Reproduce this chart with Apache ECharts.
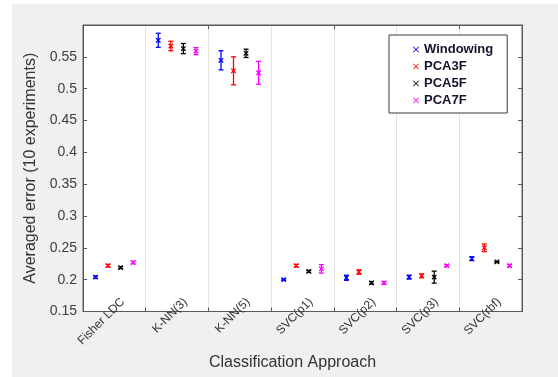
<!DOCTYPE html>
<html>
<head>
<meta charset="utf-8">
<script src="https://cdn.jsdelivr.net/npm/echarts@6/dist/echarts.min.js"></script>
<style>
  html, body { margin: 0; padding: 0; background: #ffffff; }
  #chart { width: 558px; height: 377px; }
</style>
</head>
<body>
<div id="chart"></div>
<script>
// ---- data ----
const categories = ['Fisher LDC', 'K-NN(3)', 'K-NN(5)', 'SVC(p1)', 'SVC(p2)', 'SVC(p3)', 'SVC(rbf)'];
const seriesNames = ['Windowing', 'PCA3F', 'PCA5F', 'PCA7F'];
const windowingMean = [0.204, 0.576, 0.5445, 0.200, 0.203, 0.204, 0.233];
const windowingErr  = [0.002, 0.011, 0.015, 0.001, 0.004, 0.003, 0.003];
const pca3Mean = [0.222, 0.567, 0.528, 0.222, 0.212, 0.206, 0.250];
const pca3Err  = [0.002, 0.0075, 0.022, 0.002, 0.0035, 0.003, 0.006];
const pca5Mean = [0.219, 0.563, 0.5555, 0.213, 0.195, 0.204, 0.228];
const pca5Err  = [0.0015, 0.008, 0.0065, 0.0015, 0.002, 0.0094, 0.001];
const pca7Mean = [0.227, 0.559, 0.525, 0.217, 0.195, 0.222, 0.222];
const pca7Err  = [0.002, 0.0055, 0.018, 0.0066, 0.002, 0.0015, 0.002];
const yTicks = [0.15, 0.2, 0.25, 0.3, 0.35, 0.4, 0.45, 0.5, 0.55];

const means = [windowingMean, pca3Mean, pca5Mean, pca7Mean];
const errs = [windowingErr, pca3Err, pca5Err, pca7Err];
const colors = ['#0000ff', '#ff0000', '#000000', '#ff00ff'];

const crossIcon = 'path://M0,1L1,0L5,4L9,0L10,1L6,5L10,9L9,10L5,6L1,10L0,9L4,5Z';

function makeRender(k) {
  return function (params, api) {
    const cat = api.value(0), v = api.value(1), e = api.value(2);
    const bw = api.size([1, 0])[0];
    const p = api.coord([cat, v]);
    const x = p[0] + (k - 1.5) * 0.2 * bw;
    const yc = p[1];
    const y1 = api.coord([cat, v + e])[1];
    const y2 = api.coord([cat, v - e])[1];
    const cw = 2.5, ms = 2.2;
    const st = { stroke: colors[k], lineWidth: 1.3, fill: null };
    const ln = (a, b, c, d) => ({ type: 'line', shape: { x1: a, y1: b, x2: c, y2: d }, style: st });
    return {
      type: 'group',
      children: [
        ln(x, y1, x, y2),
        ln(x - cw, y1, x + cw, y1),
        ln(x - cw, y2, x + cw, y2),
        ln(x - ms, yc - ms, x + ms, yc + ms),
        ln(x - ms, yc + ms, x + ms, yc - ms)
      ]
    };
  };
}

const series = seriesNames.map((name, k) => ({
  name: name,
  type: 'custom',
  renderItem: makeRender(k),
  itemStyle: { color: colors[k] },
  encode: { x: 0, y: 1 },
  data: categories.map((c, i) => [i, means[k][i], errs[k][i]]),
  z: 10
}));

const fmt = v => String(+(+v).toFixed(2));

const chart = echarts.init(document.getElementById('chart'), null, { renderer: 'canvas' });
chart.setOption({
  animation: false,
  backgroundColor: '#f0f0f0',
  graphic: [
    { type: 'rect', left: 0, top: 0, shape: { width: 558, height: 4 }, style: { fill: '#ffffff' }, silent: true },
    { type: 'rect', left: 0, top: 0, shape: { width: 12, height: 377 }, style: { fill: '#ffffff' }, silent: true }
  ],
  grid: {
    left: 83, top: 25, right: 36, bottom: 65.5,
    show: true, backgroundColor: '#ffffff', borderColor: '#5a5a5a', borderWidth: 1
  },
  legend: {
    data: seriesNames.map(n => ({ name: n, icon: crossIcon })),
    orient: 'vertical',
    left: 389, top: 35,
    itemWidth: 6, itemHeight: 6, itemGap: 0,
    padding: [6, 14, 4, 24],
    backgroundColor: '#ffffff',
    borderColor: '#3a3a3a', borderWidth: 1,
    textStyle: { fontFamily: 'Liberation Sans, Arial, sans-serif', fontWeight: 'bold', fontSize: 13, color: '#14142a', lineHeight: 17 }
  },
  xAxis: [{
    type: 'category',
    data: categories,
    boundaryGap: true,
    name: 'Classification Approach',
    nameLocation: 'middle',
    nameGap: 36,
    nameTextStyle: { fontFamily: 'Liberation Sans, Arial, sans-serif', fontSize: 16, color: '#333333', padding: [0, 20, 0, 0] },
    axisLine: { show: true, lineStyle: { color: '#5a5a5a', width: 1 } },
    axisTick: { show: true, inside: true, length: 4, lineStyle: { color: '#5a5a5a' } },
    splitLine: { show: true, lineStyle: { color: '#e4e4e4', width: 1 } },
    axisLabel: {
      rotate: 45, interval: 0, margin: -3,
      padding: [0, -12, 0, 0],
      fontFamily: 'Liberation Sans, Arial, sans-serif', fontSize: 12, color: '#333333'
    }
  }, {
    type: 'category',
    data: categories,
    position: 'top',
    boundaryGap: true,
    axisLine: { show: true, lineStyle: { color: '#5a5a5a', width: 1 } },
    axisTick: { show: true, inside: true, length: 4, lineStyle: { color: '#5a5a5a' } },
    axisLabel: { show: false },
    splitLine: { show: false }
  }],
  yAxis: [{
    type: 'value',
    min: 0.15, max: 0.6, interval: 0.05,
    name: 'Averaged error (10 experiments)',
    nameLocation: 'middle',
    nameGap: 42,
    nameTextStyle: { fontFamily: 'Liberation Sans, Arial, sans-serif', fontSize: 16, color: '#333333' },
    axisLine: { show: true, lineStyle: { color: '#5a5a5a', width: 1 } },
    axisTick: { show: true, inside: true, length: 4, lineStyle: { color: '#5a5a5a' } },
    splitLine: { show: false },
    axisLabel: {
      margin: 6, showMaxLabel: false,
      formatter: v => (yTicks.some(t => Math.abs(t - v) < 1e-6) ? fmt(v) : ''),
      fontFamily: 'Liberation Sans, Arial, sans-serif', fontSize: 14, color: '#404040'
    }
  }, {
    type: 'value',
    position: 'right',
    min: 0.15, max: 0.6, interval: 0.05,
    axisLine: { show: true, lineStyle: { color: '#5a5a5a', width: 1 } },
    axisTick: { show: true, inside: true, length: 4, lineStyle: { color: '#5a5a5a' } },
    axisLabel: { show: false },
    splitLine: { show: false }
  }],
  series: series
});
</script>
</body>
</html>
